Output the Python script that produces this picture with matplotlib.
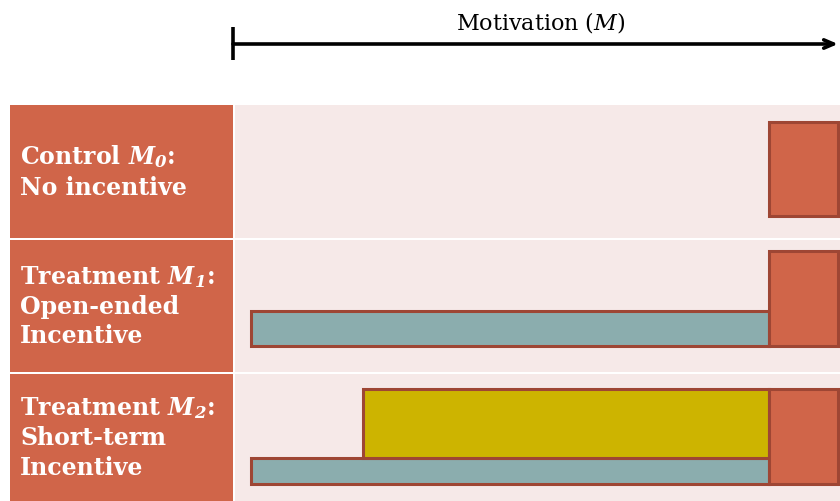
import numpy as np
import matplotlib.pyplot as plt

plt.rcParams["font.family"] = "DejaVu Serif"
plt.rcParams["mathtext.fontset"] = "dejavuserif"

# data
row_labels = [
    "Control $\\mathbfit{M}_{\\mathbfit{0}}$:\nNo incentive",
    "Treatment $\\mathbfit{M}_{\\mathbfit{1}}$:\nOpen-ended\nIncentive",
    "Treatment $\\mathbfit{M}_{\\mathbfit{2}}$:\nShort-term\nIncentive",
]
axis_title = "Motivation ($\\mathit{M}$)"
# motivation levels (0 = start of the arrow, 1 = end)
intrinsic = [0.883, 0.997]       # orange block, every row
open_ended = [0.027, 0.883]      # teal bar, rows 2 and 3
short_term = [0.213, 0.883]      # yellow bar, row 3 only

orange = "#D06549"
pink = "#F6E9E8"
teal = "#8BADAE"
yellow = "#CDB400"
edge = "#9E4634"

W, H = 840, 501
fig = plt.figure(figsize=(W / 100, H / 100), dpi=100)


def rect(x0, y0, x1, y1):
    return [x0 / W, 1 - y1 / H, (x1 - x0) / W, (y1 - y0) / H]


rows_px = [(105, 238), (240, 372), (374, 501)]
# vertical placement of blocks inside each row (fraction of row height)
block_y = [(0.164, 0.873), (0.197, 0.917), (0.134, 0.882)]
teal_top = [None, 0.462, 0.339]

for i, (y0, y1) in enumerate(rows_px):
    lab = fig.add_axes(rect(10, y0, 232.5, y1))
    lab.set_facecolor(orange)
    lab.set_xticks([])
    lab.set_yticks([])
    for s in lab.spines.values():
        s.set_visible(False)
    lab.text(0.045, 0.5, row_labels[i], color="white", fontsize=17,
             fontweight="bold", va="center", ha="left", linespacing=1.28,
             transform=lab.transAxes)

    ax = fig.add_axes(rect(234.5, y0, W, y1))
    ax.set_facecolor(pink)
    ax.set_xlim(0, 1)
    ax.set_ylim(0, 1)
    ax.set_xticks([])
    ax.set_yticks([])
    for s in ax.spines.values():
        s.set_visible(False)

    lo, hi = block_y[i]
    if i >= 1:
        ax.bar(open_ended[0], teal_top[i] - lo, width=open_ended[1] - open_ended[0],
               bottom=lo, align="edge", color=teal, edgecolor=edge, linewidth=2.2)
    if i == 2:
        ax.bar(short_term[0], hi - teal_top[i], width=short_term[1] - short_term[0],
               bottom=teal_top[i], align="edge", color=yellow, edgecolor=edge,
               linewidth=2.2)
    ax.bar(intrinsic[0], hi - lo, width=intrinsic[1] - intrinsic[0], bottom=lo,
           align="edge", color=orange, edgecolor=edge, linewidth=2.2, clip_on=False)

# arrow on top
top = fig.add_axes([0, 0, 1, 1])
top.set_xlim(0, W)
top.set_ylim(H, 0)
top.axis("off")
top.patch.set_visible(False)
x_start, x_end = 233, 838
top.plot([x_start, x_start], [27, 60], color="black", lw=2.6, solid_capstyle="butt")
top.annotate("", xy=(x_end, 44), xytext=(x_start, 44),
             arrowprops=dict(arrowstyle="->,head_length=0.7,head_width=0.3",
                             color="black", lw=2.6, shrinkA=0, shrinkB=0))
top.text(541, 22, axis_title, fontsize=16, ha="center",
         va="center", color="black")

fig.savefig("out.png", dpi=100)
